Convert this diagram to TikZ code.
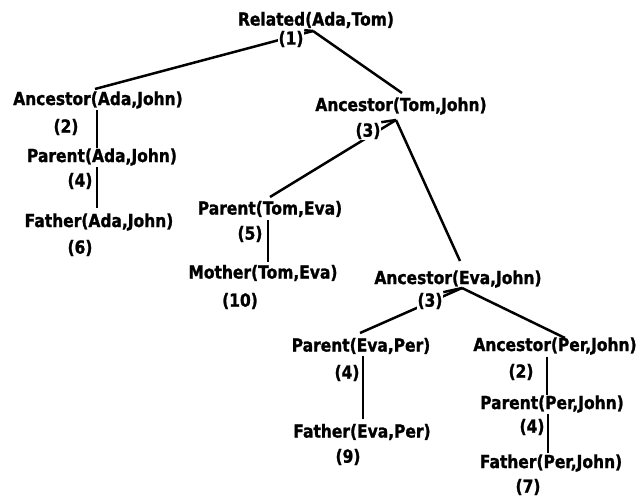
\documentclass[tikz,border=0pt]{standalone}
\usepackage{fontspec}
\setmainfont{DejaVu Sans}[FakeStretch=0.86,FakeBold=1.2]
\usetikzlibrary{backgrounds}
\begin{document}
\begin{tikzpicture}[x=1pt,y=-1pt,
  lbl/.style={font=\bfseries\fontsize{18}{19}\selectfont, inner sep=0pt},
  num/.style={lbl, fill=white, inner sep=0.6pt},
  edge/.style={line width=2.5pt}]
\useasboundingbox (0,0) rectangle (644,497);
% main labels
\node[lbl] (root) at (316,20) {Related(Ada,Tom)};
\node[lbl] (a1) at (98,100) {Ancestor(Ada,John)};
\node[lbl] (p1) at (102,157) {Parent(Ada,John)};
\node[lbl] (f1) at (99,222) {Father(Ada,John)};
\node[lbl] (at) at (401,106) {Ancestor(Tom,John)};
\node[lbl] (pt) at (270,209) {Parent(Tom,Eva)};
\node[lbl] (mt) at (263,273) {Mother(Tom,Eva)};
\node[lbl] (ae) at (458,279) {Ancestor(Eva,John)};
\node[lbl] (pe) at (361,346) {Parent(Eva,Per)};
\node[lbl] (fe) at (362,432) {Father(Eva,Per)};
\node[lbl] (ap) at (555,346) {Ancestor(Per,John)};
\node[lbl] (pp) at (552,404) {Parent(Per,John)};
\node[lbl] (fp) at (551,463) {Father(Per,John)};
% numbers
\node[num] (n1) at (291,39) {(1)};
\node[num] (n2) at (66,127) {(2)};
\node[num] (n4a) at (80,181) {(4)};
\node[num] (n6) at (80,248) {(6)};
\node[num] (n3a) at (368,131) {(3)};
\node[num] (n5) at (250,234) {(5)};
\node[num] (n10) at (240,301) {(10)};
\node[num] (n3b) at (430,301) {(3)};
\node[num] (n4b) at (347,373) {(4)};
\node[num] (n9) at (348,457) {(9)};
\node[num] (n2b) at (521,372) {(2)};
\node[num] (n4c) at (532,427) {(4)};
\node[num] (n7) at (528,487) {(7)};
% attach points
\coordinate (r-j) at (313,31);
\coordinate (a1-t) at (95,89);
\coordinate (at-t) at (402,93);
\coordinate (a1-b) at (97,110);
\coordinate (p1-t) at (97,148);
\coordinate (p1-b) at (97,167);
\coordinate (f1-t) at (97,208);
\coordinate (at-j) at (396,120);
\coordinate (pt-t) at (270,197);
\coordinate (ae-t) at (460,261);
\coordinate (pt-b) at (268,220);
\coordinate (mt-t) at (268,262);
\coordinate (ae-j) at (462,288);
\coordinate (pe-t) at (360,333);
\coordinate (ap-t) at (565,338);
\coordinate (pe-b) at (363,356);
\coordinate (fe-t) at (363,419);
\coordinate (ap-b) at (547,357);
\coordinate (pp-t) at (547,395);
\coordinate (pp-b) at (548,414);
\coordinate (fp-t) at (548,453);
\begin{scope}[on background layer]
\draw[edge] (r-j) -- (a1-t);
\draw[edge] (r-j) -- (at-t);
\draw[edge] (n1.north east) -- (r-j);
\draw[edge] (a1-b) -- (p1-t);
\draw[edge] (p1-b) -- (f1-t);
\draw[edge] (at-j) -- (pt-t);
\draw[edge] (at-j) -- (ae-t);
\draw[edge] (n3a.north east) -- (at-j);
\draw[edge] (pt-b) -- (mt-t);
\draw[edge] (ae-j) -- (pe-t);
\draw[edge] (ae-j) -- (ap-t);
\draw[edge] (n3b.north east) -- (ae-j);
\draw[edge] (pe-b) -- (fe-t);
\draw[edge] (ap-b) -- (pp-t);
\draw[edge] (pp-b) -- (fp-t);
\end{scope}
\end{tikzpicture}
\end{document}
